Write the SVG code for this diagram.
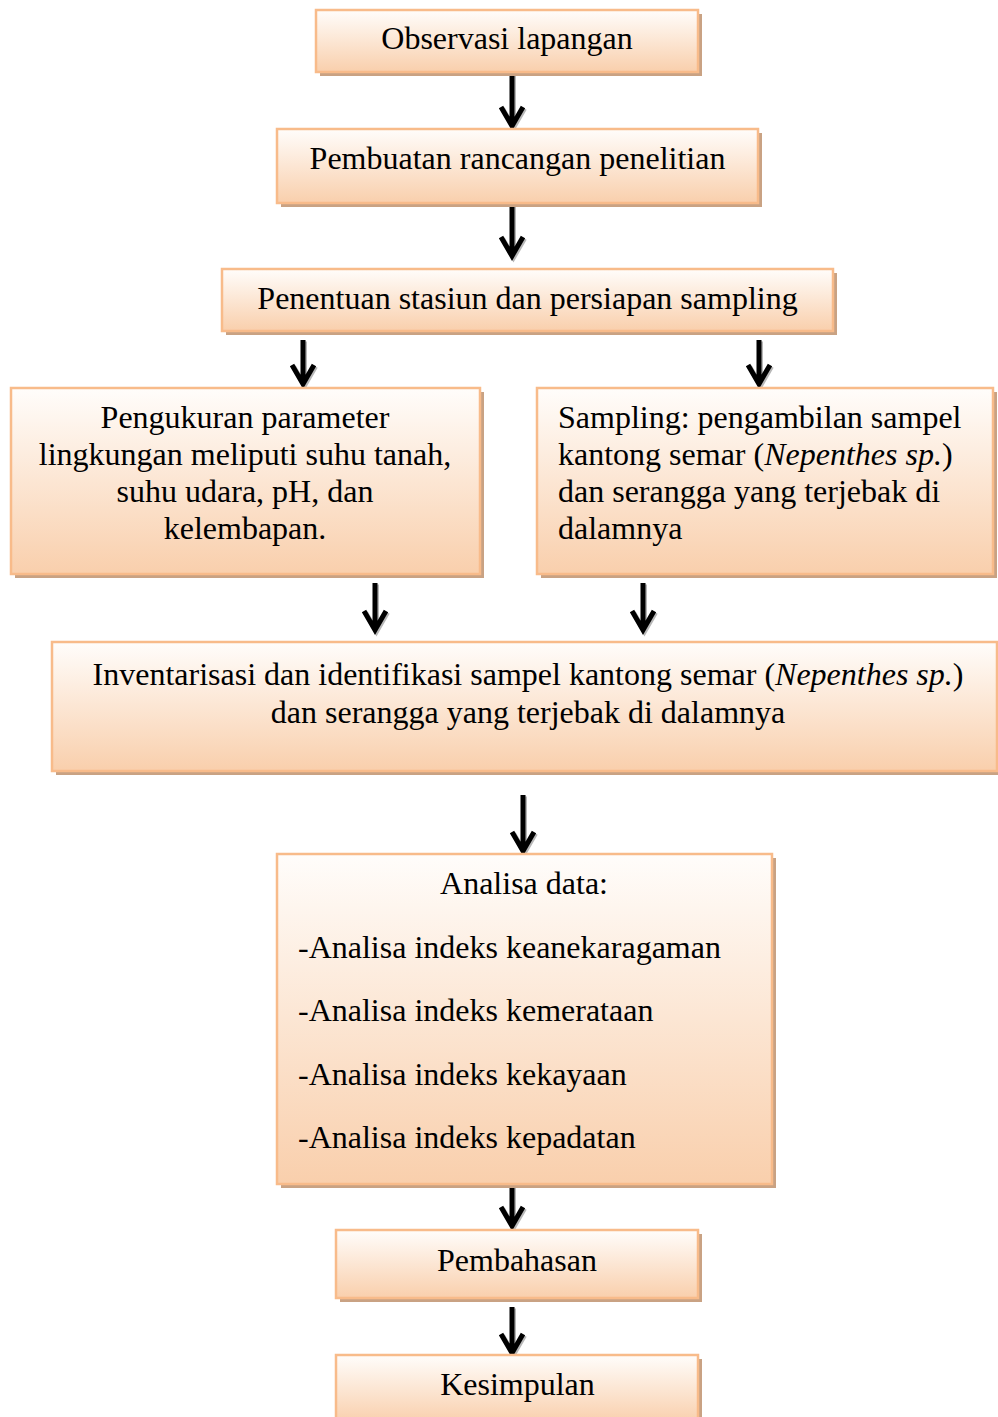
<svg xmlns="http://www.w3.org/2000/svg" width="998" height="1417" viewBox="0 0 998 1417">
<defs>
<linearGradient id="g" x1="0" y1="0" x2="0" y2="1">
<stop offset="0" stop-color="#fffdfb"/>
<stop offset="1" stop-color="#f9cfac"/>
</linearGradient>
</defs>
<style>
.box{fill:url(#g);stroke:#f8bb8a;stroke-width:2.5}
.sh{fill:#c9a283}
text{font-family:"Liberation Serif","Times New Roman",serif;font-size:32px;fill:#000}
.c{text-anchor:middle}
.arr{fill:none;stroke:#000;stroke-width:5;stroke-linejoin:miter;stroke-linecap:butt}
.arrs{fill:none;stroke:#888;stroke-opacity:0.6;stroke-width:5}
</style>
<rect width="998" height="1417" fill="#fff"/>
<g id="connectors">
<g transform="translate(1.5,1.5)">
<path class="arrs" d="M512 72V126M501 107L512 126L523 107"/>
<path class="arrs" d="M512 203V256M501 237L512 256L523 237"/>
<path class="arrs" d="M303 340V384M292 365L303 384L314 365"/>
<path class="arrs" d="M759 340V384M748 365L759 384L770 365"/>
<path class="arrs" d="M375 583V630M364 611L375 630L386 611"/>
<path class="arrs" d="M643 583V630M632 611L643 630L654 611"/>
<path class="arrs" d="M523 795V851M512 832L523 851L534 832"/>
<path class="arrs" d="M512 1183V1226M501 1207L512 1226L523 1207"/>
<path class="arrs" d="M512 1307V1353M501 1334L512 1353L523 1334"/>
</g>
<path class="arr" d="M512 72V126M501 107L512 126L523 107"/>
<path class="arr" d="M512 203V256M501 237L512 256L523 237"/>
<path class="arr" d="M303 340V384M292 365L303 384L314 365"/>
<path class="arr" d="M759 340V384M748 365L759 384L770 365"/>
<path class="arr" d="M375 583V630M364 611L375 630L386 611"/>
<path class="arr" d="M643 583V630M632 611L643 630L654 611"/>
<path class="arr" d="M523 795V851M512 832L523 851L534 832"/>
<path class="arr" d="M512 1183V1226M501 1207L512 1226L523 1207"/>
<path class="arr" d="M512 1307V1353M501 1334L512 1353L523 1334"/>
</g>
<g id="n1">
<rect class="sh" x="320" y="14" width="382" height="62"/>
<rect class="box" x="316" y="10" width="382" height="62"/>
<text class="c" x="507" y="49">Observasi lapangan</text>
</g>
<g id="n2">
<rect class="sh" x="281" y="133" width="481" height="74"/>
<rect class="box" x="277" y="129" width="481" height="74"/>
<text class="c" x="517.5" y="169">Pembuatan rancangan penelitian</text>
</g>
<g id="n3">
<rect class="sh" x="226" y="273" width="611" height="62"/>
<rect class="box" x="222" y="269" width="611" height="62"/>
<text class="c" x="527.5" y="309">Penentuan stasiun dan persiapan sampling</text>
</g>
<g id="n4">
<rect class="sh" x="15" y="392" width="469" height="186"/>
<rect class="box" x="11" y="388" width="469" height="186"/>
<text class="c" x="245" y="428">Pengukuran parameter</text>
<text class="c" x="245" y="465">lingkungan meliputi suhu tanah,</text>
<text class="c" x="245" y="502">suhu udara, pH, dan</text>
<text class="c" x="245" y="539">kelembapan.</text>
</g>
<g id="n5">
<rect class="sh" x="541" y="392" width="456" height="186"/>
<rect class="box" x="537" y="388" width="456" height="186"/>
<text x="558" y="428">Sampling: pengambilan sampel</text>
<text x="558" y="465">kantong semar (<tspan font-style="italic">Nepenthes sp.</tspan>)</text>
<text x="558" y="502">dan serangga yang terjebak di</text>
<text x="558" y="539">dalamnya</text>
</g>
<g id="n6">
<rect class="sh" x="56" y="646" width="946" height="129"/>
<rect class="box" x="52" y="642" width="945" height="129"/>
<text class="c" x="528" y="685">Inventarisasi dan identifikasi sampel kantong semar (<tspan font-style="italic">Nepenthes sp.</tspan>)</text>
<text class="c" x="528" y="723">dan serangga yang terjebak di dalamnya</text>
</g>
<g id="n7">
<rect class="sh" x="281" y="858" width="495" height="330"/>
<rect class="box" x="277" y="854" width="495" height="330"/>
<text class="c" x="524" y="894">Analisa data:</text>
<text x="298" y="958">-Analisa indeks keanekaragaman</text>
<text x="298" y="1021">-Analisa indeks kemerataan</text>
<text x="298" y="1085">-Analisa indeks kekayaan</text>
<text x="298" y="1148">-Analisa indeks kepadatan</text>
</g>
<g id="n8">
<rect class="sh" x="340" y="1234" width="362" height="68"/>
<rect class="box" x="336" y="1230" width="362" height="68"/>
<text class="c" x="517" y="1271">Pembahasan</text>
</g>
<g id="n9">
<rect class="sh" x="340" y="1359" width="362" height="68"/>
<rect class="box" x="336" y="1355" width="362" height="68"/>
<text class="c" x="517.5" y="1395">Kesimpulan</text>
</g>
</svg>
